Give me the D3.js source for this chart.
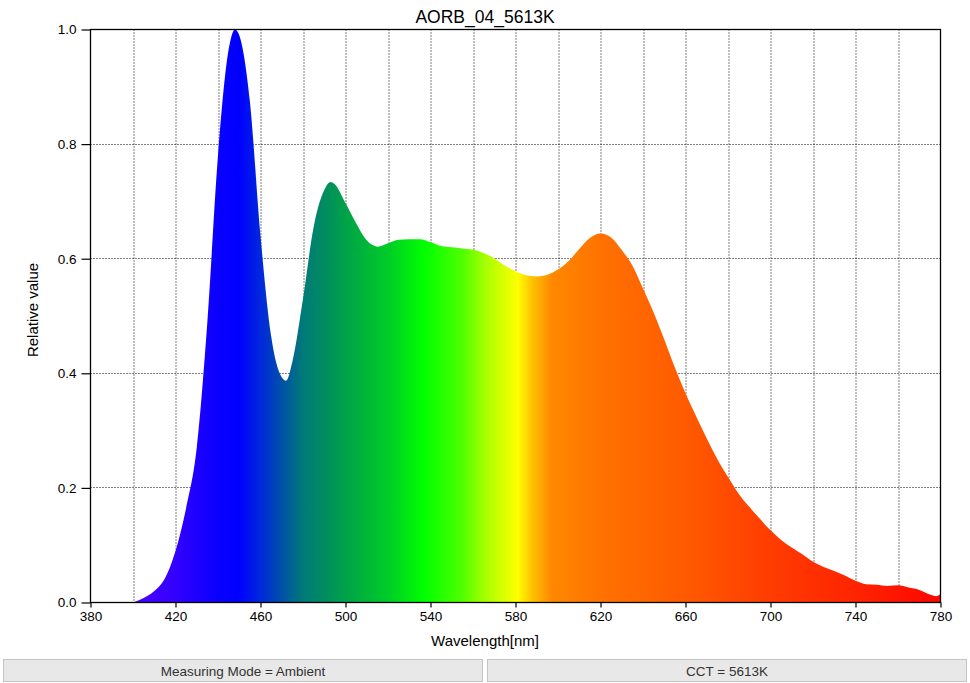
<!DOCTYPE html>
<html>
<head>
<meta charset="utf-8">
<script src="https://cdn.jsdelivr.net/npm/d3@7/dist/d3.min.js"></script>
<style>
  html, body { margin: 0; padding: 0; background: #fff; }
  svg { display: block; font-family: "Liberation Sans", Arial, Helvetica, sans-serif; }
</style>
</head>
<body>
<svg id="chart" width="970" height="683"></svg>
<script>
const title = "AORB_04_5613K";
const xLabel = "Wavelength[nm]";
const yLabel = "Relative value";
const footerLeft = "Measuring Mode = Ambient";
const footerRight = "CCT = 5613K";

const wavelengths = [400,405,410,415,420,425,430,435,440,445,448,450,455,460,465,470,472,475,480,485,490,493,495,500,505,510,515,520,525,530,535,540,545,550,555,560,565,570,575,580,585,590,595,600,605,610,615,620,625,630,635,640,645,650,655,660,665,670,675,680,685,690,695,700,705,710,715,720,725,730,735,740,745,750,755,760,765,770,775,778,780];
const values = [0,0.008,0.02,0.042,0.09,0.165,0.27,0.49,0.78,0.965,1.0,0.99,0.875,0.64,0.465,0.393,0.387,0.42,0.53,0.655,0.72,0.734,0.73,0.697,0.662,0.632,0.621,0.627,0.633,0.634,0.634,0.629,0.622,0.62,0.618,0.616,0.61,0.601,0.588,0.578,0.571,0.569,0.572,0.581,0.596,0.617,0.636,0.644,0.637,0.615,0.588,0.548,0.506,0.459,0.41,0.365,0.325,0.286,0.25,0.219,0.19,0.167,0.146,0.126,0.109,0.096,0.084,0.071,0.062,0.055,0.047,0.038,0.032,0.031,0.029,0.03,0.026,0.022,0.014,0.011,0.015];

const xTicks = [380,420,460,500,540,580,620,660,700,740,780];
const xGrid = d3.range(400, 780, 20);
const yTicks = [0.0,0.2,0.4,0.6,0.8,1.0];

// spectral colour stops (wavelength -> colour)
const colorStops = [
  [380,"#5a00ff"],[400,"#4a00ff"],[420,"#3300ff"],[440,"#0800ff"],[450,"#0000ff"],
  [460,"#0028dd"],[470,"#0050a8"],[480,"#007a78"],[490,"#008c60"],[500,"#00a248"],
  [520,"#00cc28"],[537,"#00ff00"],[555,"#50ff00"],[566,"#a8ff00"],[581,"#ffff00"],
  [588,"#ffc000"],[597,"#ff8800"],[620,"#ff7200"],[660,"#ff5a00"],[700,"#ff3c00"],
  [740,"#ff2400"],[780,"#ff0600"]
];

const svg = d3.select("#chart");
const margin = {left: 90.5, top: 29.5, right: 29.5, bottom: 80.5};
const W = 970, H = 683;
const iw = W - margin.left - margin.right;  // 850
const ih = H - margin.top - margin.bottom;  // 573

const x = d3.scaleLinear().domain([380, 780]).range([0, iw]);
const y = d3.scaleLinear().domain([0, 1]).range([ih, 0]);

const defs = svg.append("defs");
const grad = defs.append("linearGradient")
  .attr("id", "spec")
  .attr("gradientUnits", "userSpaceOnUse")
  .attr("x1", x(380)).attr("x2", x(780)).attr("y1", 0).attr("y2", 0);
grad.selectAll("stop").data(colorStops).join("stop")
  .attr("offset", d => (d[0] - 380) / 400)
  .attr("stop-color", d => d[1]);

const g = svg.append("g").attr("transform", `translate(${margin.left},${margin.top})`);

// Title
svg.append("text").attr("x", W / 2).attr("y", 23)
  .attr("text-anchor", "middle").attr("font-size", 17.5).attr("fill", "#000").text(title);

// grid
g.append("g").selectAll("line").data(xGrid).join("line")
  .attr("x1", d => Math.round(x(d)) + 0.5).attr("x2", d => Math.round(x(d)) + 0.5)
  .attr("y1", 0).attr("y2", ih)
  .attr("stroke", "#000").attr("stroke-width", 1).attr("stroke-dasharray", "1,2");
g.append("g").selectAll("line").data(yTicks.filter(d => d > 0 && d < 1)).join("line")
  .attr("x1", 0).attr("x2", iw)
  .attr("y1", d => Math.round(y(d))).attr("y2", d => Math.round(y(d)))
  .attr("stroke", "#000").attr("stroke-width", 1).attr("stroke-dasharray", "1,2");

// area
const data = wavelengths.map((w, i) => ({w, v: values[i]}));
const area = d3.area()
  .x(d => x(d.w)).y0(y(0)).y1(d => y(d.v))
  .curve(d3.curveMonotoneX);
g.append("path").datum(data).attr("d", area).attr("fill", "url(#spec)");

// frame
g.append("rect").attr("x", 0).attr("y", 0).attr("width", iw).attr("height", ih)
  .attr("fill", "none").attr("stroke", "#000").attr("stroke-width", 1.3);

// axes
const xAxis = d3.axisBottom(x).tickValues(xTicks).tickFormat(d3.format("d")).tickSize(5).tickPadding(4);
const gx = g.append("g").attr("transform", `translate(0,${ih})`).call(xAxis);
gx.select(".domain").remove();
gx.selectAll("text").attr("font-size", 13.5).attr("fill", "#000")
  .attr("font-family", '"Liberation Sans", Arial, sans-serif');
gx.selectAll("line").attr("stroke", "#000").attr("stroke-width", 1.2);

const yAxis = d3.axisLeft(y).tickValues(yTicks).tickFormat(d3.format(".1f")).tickSize(9).tickPadding(5);
const gy = g.append("g").call(yAxis);
gy.select(".domain").remove();
gy.selectAll("text").attr("font-size", 13.5).attr("fill", "#000")
  .attr("font-family", '"Liberation Sans", Arial, sans-serif');
gy.selectAll("line").attr("stroke", "#000").attr("stroke-width", 1.2);

// axis labels
svg.append("text").attr("x", W / 2).attr("y", 646)
  .attr("text-anchor", "middle").attr("font-size", 15).attr("fill", "#000").text(xLabel);
svg.append("text").attr("transform", `translate(38,310) rotate(-90)`)
  .attr("text-anchor", "middle").attr("font-size", 15).attr("fill", "#000").text(yLabel);

// footer panels
const panels = [
  {x: 3.5, w: 479, text: footerLeft},
  {x: 487.5, w: 479, text: footerRight}
];
const fp = svg.append("g").selectAll("g").data(panels).join("g");
fp.append("rect").attr("x", d => d.x).attr("y", 659.5).attr("width", d => d.w).attr("height", 22)
  .attr("fill", "#e8e8e8").attr("stroke", "#c4c4c4").attr("stroke-width", 1);
fp.append("text").attr("x", d => d.x + d.w / 2).attr("y", 676)
  .attr("text-anchor", "middle").attr("font-size", 13.5).attr("fill", "#333").text(d => d.text);
</script>
</body>
</html>
